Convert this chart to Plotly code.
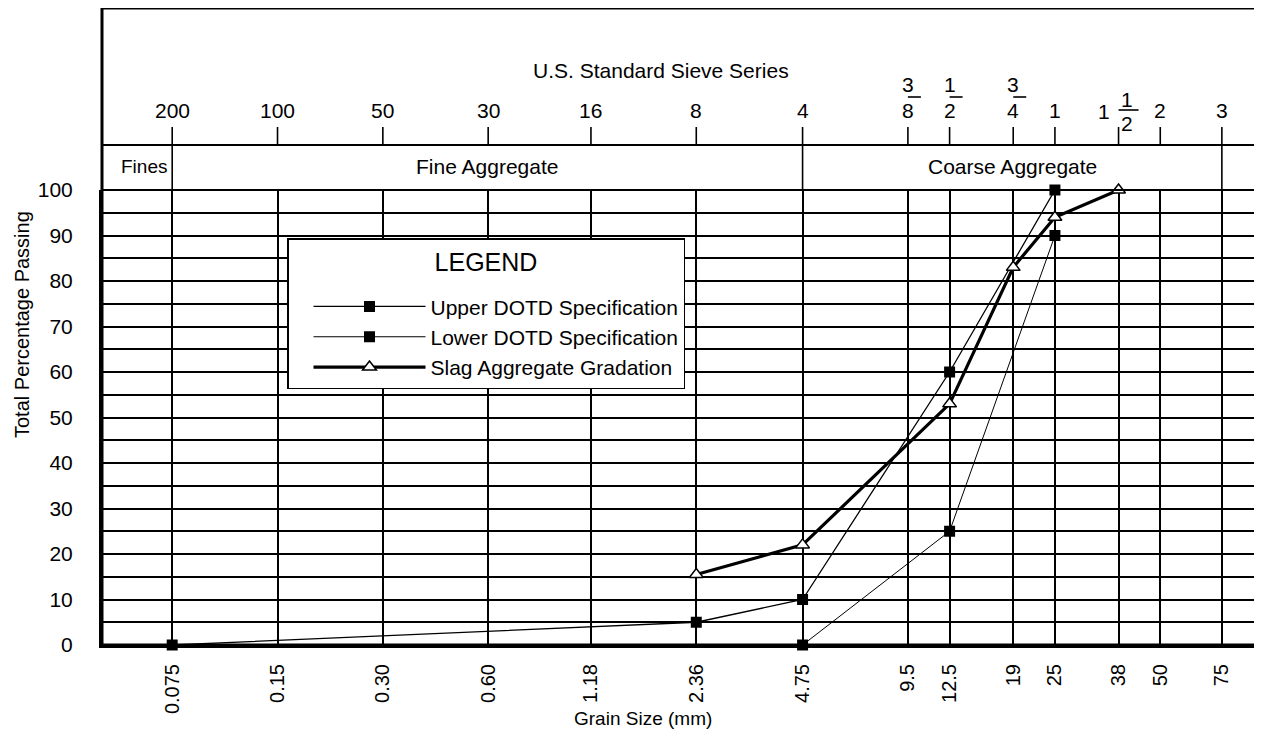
import math
import plotly.graph_objects as go

# ---------------- data ----------------
sizes_mm = [0.075, 0.15, 0.30, 0.60, 1.18, 2.36, 4.75, 9.5, 12.5, 19, 25, 38, 50, 75]
size_labels = ["0.075", "0.15", "0.30", "0.60", "1.18", "2.36", "4.75",
               "9.5", "12.5", "19", "25", "38", "50", "75"]
sieve_labels = ["200", "100", "50", "30", "16", "8", "4",
                "3/8", "1/2", "3/4", "1", "1 1/2", "2", "3"]

upper_x = [0.075, 2.36, 4.75, 12.5, 25]
upper_y = [0, 5, 10, 60, 100]
lower_x = [4.75, 12.5, 25]
lower_y = [0, 25, 90]
slag_x = [2.36, 4.75, 12.5, 19, 25, 38]
slag_y = [15.5, 22, 53, 83, 94, 100]

y_major = list(range(0, 101, 10))
y_minor = list(range(5, 100, 10))
zone_bounds = [0.075, 4.75, 75]

FONT = "Liberation Sans, Arial, Helvetica, sans-serif"
BLACK = "#000000"

# screen geometry (page body has an 8px margin)
OFF = 8
W, H = 1262 - OFF, 733 - OFF
LEFT, RIGHT = 102, 1257
PLOT_TOP, PLOT_BOTTOM = 190, 645
PW = RIGHT - LEFT
PH = PLOT_BOTTOM - PLOT_TOP


def px(sx):
    return (sx - LEFT) / PW


def py(sy):
    return (PLOT_BOTTOM - sy) / PH


fig = go.Figure()

fig.add_trace(go.Scatter(
    x=upper_x, y=upper_y, mode="lines+markers", name="Upper DOTD Specification",
    legendgroup="a",
    line=dict(color=BLACK, width=1.3),
    marker=dict(symbol="square", size=11, color=BLACK),
    cliponaxis=False))
fig.add_trace(go.Scatter(
    x=lower_x, y=lower_y, mode="lines+markers", name="Lower DOTD Specification",
    legendgroup="b",
    line=dict(color=BLACK, width=1.0),
    marker=dict(symbol="square", size=11, color=BLACK),
    cliponaxis=False))
fig.add_trace(go.Scatter(
    x=slag_x, y=slag_y, mode="lines+markers", name="Slag Aggregate Gradation",
    legendgroup="c",
    line=dict(color=BLACK, width=3.2),
    marker=dict(symbol="triangle-up", size=12, color="white",
                line=dict(color=BLACK, width=1.5)),
    cliponaxis=False))

shapes = []
# outer frame
shapes.append(dict(type="rect", xref="paper", yref="paper", x0=0, x1=1,
                   y0=0, y1=py(8), line=dict(color=BLACK, width=3)))
# top of zone-label row and top of grid (100 %)
shapes.append(dict(type="line", xref="paper", yref="paper", x0=0, x1=1,
                   y0=py(145), y1=py(145), line=dict(color=BLACK, width=2)))
shapes.append(dict(type="line", xref="paper", yref="paper", x0=0, x1=1,
                   y0=1, y1=1, line=dict(color=BLACK, width=2)))
# sieve tick marks above the chart
for s in sizes_mm:
    y0 = 1 if s in zone_bounds else py(145)
    shapes.append(dict(type="line", xref="x", yref="paper", x0=s, x1=s,
                       y0=y0, y1=py(127), line=dict(color=BLACK, width=1.6)))


def ann(text, x, y, xref="paper", size=21, **kw):
    d = dict(text=text, xref=xref, yref="paper", x=x, y=y, showarrow=False,
             xanchor="center", yanchor="middle",
             font=dict(size=size, family=FONT, color=BLACK))
    d.update(kw)
    return d


annotations = [ann("U.S. Standard Sieve Series", px(661), py(70))]
for s, lab in zip(sizes_mm, sieve_labels):
    lx = math.log10(s)
    if lab == "1 1/2":
        annotations.append(ann("1", lx, py(112), xref="x", xshift=-15))
        annotations.append(ann("1", lx, py(99), xref="x", xshift=8))
        annotations.append(ann("2", lx, py(123), xref="x", xshift=8))
        shapes.append(dict(type="line", xref="x", yref="paper", xsizemode="pixel",
                           xanchor=s, x0=-4, x1=20, y0=py(110), y1=py(110),
                           line=dict(color=BLACK, width=1.6)))
    elif "/" in lab:
        num, den = lab.split("/")
        annotations.append(ann(num, lx, py(85), xref="x"))
        annotations.append(ann(den, lx, py(111), xref="x"))
        shapes.append(dict(type="line", xref="x", yref="paper", xsizemode="pixel",
                           xanchor=s, x0=-13, x1=13, y0=py(97), y1=py(97),
                           line=dict(color=BLACK, width=1.6)))
    else:
        annotations.append(ann(lab, lx, py(111), xref="x"))

# zone labels
annotations.append(ann("Fines", px(144), py(167), size=19))
annotations.append(ann("Fine Aggregate",
                       (math.log10(0.075) + math.log10(4.75)) / 2, py(167),
                       xref="x", size=21))
annotations.append(ann("Coarse Aggregate",
                       (math.log10(4.75) + math.log10(75)) / 2, py(167),
                       xref="x", size=21))
# axis titles
annotations.append(ann("Total Percentage Passing", px(22), py(325), size=20,
                       textangle=-90))
annotations.append(ann("Grain Size (mm)", px(643), py(718), size=19))

fig.update_layout(
    width=W, height=H,
    margin=dict(l=LEFT - OFF, r=W - (RIGHT - OFF), t=PLOT_TOP - OFF,
                b=H - (PLOT_BOTTOM - OFF), pad=0),
    paper_bgcolor="white", plot_bgcolor="white",
    font=dict(family=FONT, size=21, color=BLACK),
    showlegend=True,
    legend=dict(
        x=px(287), y=py(238), xanchor="left", yanchor="top",
        bgcolor="white", bordercolor=BLACK, borderwidth=1.5,
        title=dict(text=" <br><span style='font-size:25px'>LEGEND</span><br> ",
                   side="top center",
                   font=dict(size=12, family=FONT, color=BLACK)),
        font=dict(size=21, family=FONT, color=BLACK),
        itemwidth=112, indentation=20, tracegroupgap=0,
    ),
    shapes=shapes,
    annotations=annotations,
)

fig.update_xaxes(
    type="log", range=[math.log10(0.075) - 0.2006, math.log10(75) + 0.1004],
    tickvals=sizes_mm, ticktext=size_labels, tickangle=-90,
    tickfont=dict(size=20, family=FONT, color=BLACK),
    ticks="", ticklabelstandoff=8,
    showgrid=True, gridcolor=BLACK, gridwidth=1.5,
    showline=True, linecolor=BLACK, linewidth=3,
    zeroline=False, fixedrange=True,
)
fig.update_yaxes(
    range=[0, 100],
    tickvals=y_major, ticktext=[str(v) for v in y_major],
    tickfont=dict(size=21, family=FONT, color=BLACK),
    ticks="", ticklabelstandoff=22,
    showgrid=True, gridcolor=BLACK, gridwidth=1.5,
    minor=dict(tickvals=y_minor, showgrid=True, gridcolor=BLACK, gridwidth=1.5),
    showline=True, linecolor=BLACK, linewidth=3,
    zeroline=False, fixedrange=True,
)

fig.write_html("out.html")
